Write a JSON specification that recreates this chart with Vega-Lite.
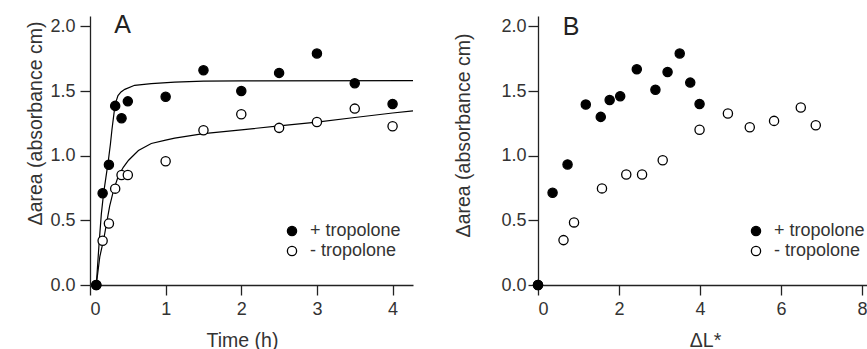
{
  "$schema": "https://vega.github.io/schema/vega-lite/v6.json",
  "background": "white",
  "padding": {"left": 25, "top": 13, "right": 0, "bottom": 0},
  "spacing": 37,
  "datasets": {
    "ptsA": [
      {"t": 0.083, "area": 0, "series": "- tropolone"},
      {"t": 0.167, "area": 0.342, "series": "- tropolone"},
      {"t": 0.25, "area": 0.476, "series": "- tropolone"},
      {"t": 0.333, "area": 0.745, "series": "- tropolone"},
      {"t": 0.417, "area": 0.85, "series": "- tropolone"},
      {"t": 0.5, "area": 0.85, "series": "- tropolone"},
      {"t": 1, "area": 0.957, "series": "- tropolone"},
      {"t": 1.5, "area": 1.197, "series": "- tropolone"},
      {"t": 2, "area": 1.32, "series": "- tropolone"},
      {"t": 2.5, "area": 1.215, "series": "- tropolone"},
      {"t": 3, "area": 1.26, "series": "- tropolone"},
      {"t": 3.5, "area": 1.364, "series": "- tropolone"},
      {"t": 4, "area": 1.228, "series": "- tropolone"},
      {"t": 0.083, "area": 0, "series": "+ tropolone"},
      {"t": 0.167, "area": 0.71, "series": "+ tropolone"},
      {"t": 0.25, "area": 0.93, "series": "+ tropolone"},
      {"t": 0.333, "area": 1.385, "series": "+ tropolone"},
      {"t": 0.417, "area": 1.29, "series": "+ tropolone"},
      {"t": 0.5, "area": 1.42, "series": "+ tropolone"},
      {"t": 1, "area": 1.455, "series": "+ tropolone"},
      {"t": 1.5, "area": 1.66, "series": "+ tropolone"},
      {"t": 2, "area": 1.5, "series": "+ tropolone"},
      {"t": 2.5, "area": 1.64, "series": "+ tropolone"},
      {"t": 3, "area": 1.79, "series": "+ tropolone"},
      {"t": 3.5, "area": 1.56, "series": "+ tropolone"},
      {"t": 4, "area": 1.4, "series": "+ tropolone"}
    ],
    "fitA": [
      {"t": 0.083, "fit": 0, "series": "+ tropolone"},
      {"t": 0.12, "fit": 0.32, "series": "+ tropolone"},
      {"t": 0.15, "fit": 0.55, "series": "+ tropolone"},
      {"t": 0.18, "fit": 0.71, "series": "+ tropolone"},
      {"t": 0.21, "fit": 0.83, "series": "+ tropolone"},
      {"t": 0.24, "fit": 0.95, "series": "+ tropolone"},
      {"t": 0.27, "fit": 1.09, "series": "+ tropolone"},
      {"t": 0.29, "fit": 1.2, "series": "+ tropolone"},
      {"t": 0.32, "fit": 1.34, "series": "+ tropolone"},
      {"t": 0.345, "fit": 1.42, "series": "+ tropolone"},
      {"t": 0.37, "fit": 1.465, "series": "+ tropolone"},
      {"t": 0.41, "fit": 1.493, "series": "+ tropolone"},
      {"t": 0.46, "fit": 1.513, "series": "+ tropolone"},
      {"t": 0.59, "fit": 1.544, "series": "+ tropolone"},
      {"t": 0.81, "fit": 1.557, "series": "+ tropolone"},
      {"t": 1.12, "fit": 1.568, "series": "+ tropolone"},
      {"t": 1.5, "fit": 1.576, "series": "+ tropolone"},
      {"t": 2, "fit": 1.578, "series": "+ tropolone"},
      {"t": 4.27, "fit": 1.58, "series": "+ tropolone"},
      {"t": 0.083, "fit": 0, "series": "- tropolone"},
      {"t": 0.13, "fit": 0.22, "series": "- tropolone"},
      {"t": 0.18, "fit": 0.35, "series": "- tropolone"},
      {"t": 0.22, "fit": 0.48, "series": "- tropolone"},
      {"t": 0.26, "fit": 0.61, "series": "- tropolone"},
      {"t": 0.31, "fit": 0.73, "series": "- tropolone"},
      {"t": 0.37, "fit": 0.835, "series": "- tropolone"},
      {"t": 0.44, "fit": 0.91, "series": "- tropolone"},
      {"t": 0.51, "fit": 0.965, "series": "- tropolone"},
      {"t": 0.64, "fit": 1.04, "series": "- tropolone"},
      {"t": 0.81, "fit": 1.094, "series": "- tropolone"},
      {"t": 1, "fit": 1.12, "series": "- tropolone"},
      {"t": 1.12, "fit": 1.135, "series": "- tropolone"},
      {"t": 1.5, "fit": 1.17, "series": "- tropolone"},
      {"t": 2, "fit": 1.2, "series": "- tropolone"},
      {"t": 2.5, "fit": 1.23, "series": "- tropolone"},
      {"t": 3, "fit": 1.26, "series": "- tropolone"},
      {"t": 3.5, "fit": 1.295, "series": "- tropolone"},
      {"t": 4, "fit": 1.33, "series": "- tropolone"},
      {"t": 4.27, "fit": 1.346, "series": "- tropolone"}
    ],
    "ptsB": [
      {"dL": 0, "area": 0, "series": "- tropolone"},
      {"dL": 0.63, "area": 0.347, "series": "- tropolone"},
      {"dL": 0.89, "area": 0.484, "series": "- tropolone"},
      {"dL": 1.58, "area": 0.747, "series": "- tropolone"},
      {"dL": 2.18, "area": 0.855, "series": "- tropolone"},
      {"dL": 2.57, "area": 0.855, "series": "- tropolone"},
      {"dL": 3.08, "area": 0.965, "series": "- tropolone"},
      {"dL": 3.99, "area": 1.2, "series": "- tropolone"},
      {"dL": 4.69, "area": 1.326, "series": "- tropolone"},
      {"dL": 5.23, "area": 1.22, "series": "- tropolone"},
      {"dL": 5.83, "area": 1.269, "series": "- tropolone"},
      {"dL": 6.49, "area": 1.372, "series": "- tropolone"},
      {"dL": 6.86, "area": 1.235, "series": "- tropolone"},
      {"dL": 0, "area": 0, "series": "+ tropolone"},
      {"dL": 0.36, "area": 0.713, "series": "+ tropolone"},
      {"dL": 0.73, "area": 0.932, "series": "+ tropolone"},
      {"dL": 1.18, "area": 1.395, "series": "+ tropolone"},
      {"dL": 1.55, "area": 1.3, "series": "+ tropolone"},
      {"dL": 1.77, "area": 1.43, "series": "+ tropolone"},
      {"dL": 2.03, "area": 1.46, "series": "+ tropolone"},
      {"dL": 2.44, "area": 1.668, "series": "+ tropolone"},
      {"dL": 2.9, "area": 1.51, "series": "+ tropolone"},
      {"dL": 3.2, "area": 1.647, "series": "+ tropolone"},
      {"dL": 3.5, "area": 1.79, "series": "+ tropolone"},
      {"dL": 3.76, "area": 1.565, "series": "+ tropolone"},
      {"dL": 3.99, "area": 1.4, "series": "+ tropolone"}
    ],
    "labA": [{"label": "A"}],
    "labB": [{"label": "B"}]
  },
  "config": {
    "view": {"stroke": null},
    "font": "Liberation Sans",
    "axis": {
      "grid": false,
      "domainColor": "#222",
      "domainWidth": 1.3,
      "tickColor": "#222",
      "tickWidth": 1.3,
      "tickSize": 10,
      "labelColor": "#333",
      "titleColor": "#333",
      "labelFont": "Liberation Sans",
      "titleFont": "Liberation Sans",
      "labelFontSize": 18,
      "titleFontSize": 19.5,
      "titleFontWeight": "normal"
    },
    "legend": {
      "labelFont": "Liberation Sans",
      "labelFontSize": 18,
      "labelColor": "#333",
      "symbolStrokeColor": "black",
      "symbolStrokeWidth": 1.3,
      "symbolSize": 85,
      "symbolType": "circle",
      "rowPadding": 2,
      "labelOffset": 9,
      "padding": 0
    }
  },
  "resolve": {"scale": {"fill": "independent"}, "legend": {"fill": "independent"}},
  "hconcat": [
    {
      "width": 323,
      "height": 269,
      "layer": [
        {
          "data": {"name": "fitA"},
          "mark": {"type": "line", "color": "black", "strokeWidth": 1.2},
          "encoding": {
            "x": {"field": "t", "type": "quantitative", "scale": {"domain": [0, 4.27], "nice": false}, "axis": {"values": [0, 1, 2, 3, 4], "format": "d", "title": "Time (h)", "labelPadding": 5, "titlePadding": 13, "titleX": 152}},
            "y": {"field": "fit", "type": "quantitative", "scale": {"domain": [0, 2.08], "nice": false}, "axis": {"values": [0, 0.5, 1, 1.5, 2], "format": ".1f", "title": "Δarea (absorbance cm)", "labelPadding": 5, "titlePadding": 4, "titleY": 107}},
            "detail": {"field": "series"}
          }
        },
        {
          "data": {"name": "ptsA"},
          "mark": {"type": "point", "shape": "circle", "filled": true, "size": 85, "stroke": "black", "strokeWidth": 1.3, "opacity": 1},
          "encoding": {
            "x": {"field": "t", "type": "quantitative"},
            "y": {"field": "area", "type": "quantitative"},
            "fill": {"field": "series", "type": "nominal", "scale": {"domain": ["+ tropolone", "- tropolone"], "range": ["black", "white"]}, "legend": {"title": null, "orient": "none", "legendX": 193, "legendY": 206}}
          }
        },
        {
          "data": {"name": "labA"},
          "mark": {"type": "text", "fontSize": 25, "align": "center", "baseline": "alphabetic", "color": "#222"},
          "encoding": {
            "x": {"datum": 0.43, "type": "quantitative"},
            "y": {"datum": 1.946, "type": "quantitative"},
            "text": {"field": "label"}
          }
        }
      ]
    },
    {
      "width": 330,
      "height": 269,
      "layer": [
        {
          "data": {"name": "ptsB"},
          "mark": {"type": "point", "shape": "circle", "filled": true, "size": 85, "stroke": "black", "strokeWidth": 1.3, "opacity": 1},
          "encoding": {
            "x": {"field": "dL", "type": "quantitative", "scale": {"domain": [0, 8.15], "nice": false}, "axis": {"values": [0, 2, 4, 6, 8], "format": "d", "title": "ΔL*", "labelPadding": 5, "titlePadding": 13, "titleX": 167}},
            "y": {"field": "area", "type": "quantitative", "scale": {"domain": [0, 2.08], "nice": false}, "axis": {"values": [0, 0.5, 1, 1.5, 2], "format": ".1f", "title": "Δarea (absorbance cm)", "labelPadding": 2, "titlePadding": 27, "titleY": 119}},
            "fill": {"field": "series", "type": "nominal", "scale": {"domain": ["+ tropolone", "- tropolone"], "range": ["black", "white"]}, "legend": {"title": null, "orient": "none", "legendX": 209, "legendY": 206}}
          }
        },
        {
          "data": {"name": "labB"},
          "mark": {"type": "text", "fontSize": 25, "align": "center", "baseline": "alphabetic", "color": "#222"},
          "encoding": {
            "x": {"datum": 0.815, "type": "quantitative"},
            "y": {"datum": 1.935, "type": "quantitative"},
            "text": {"field": "label"}
          }
        }
      ]
    }
  ]
}
